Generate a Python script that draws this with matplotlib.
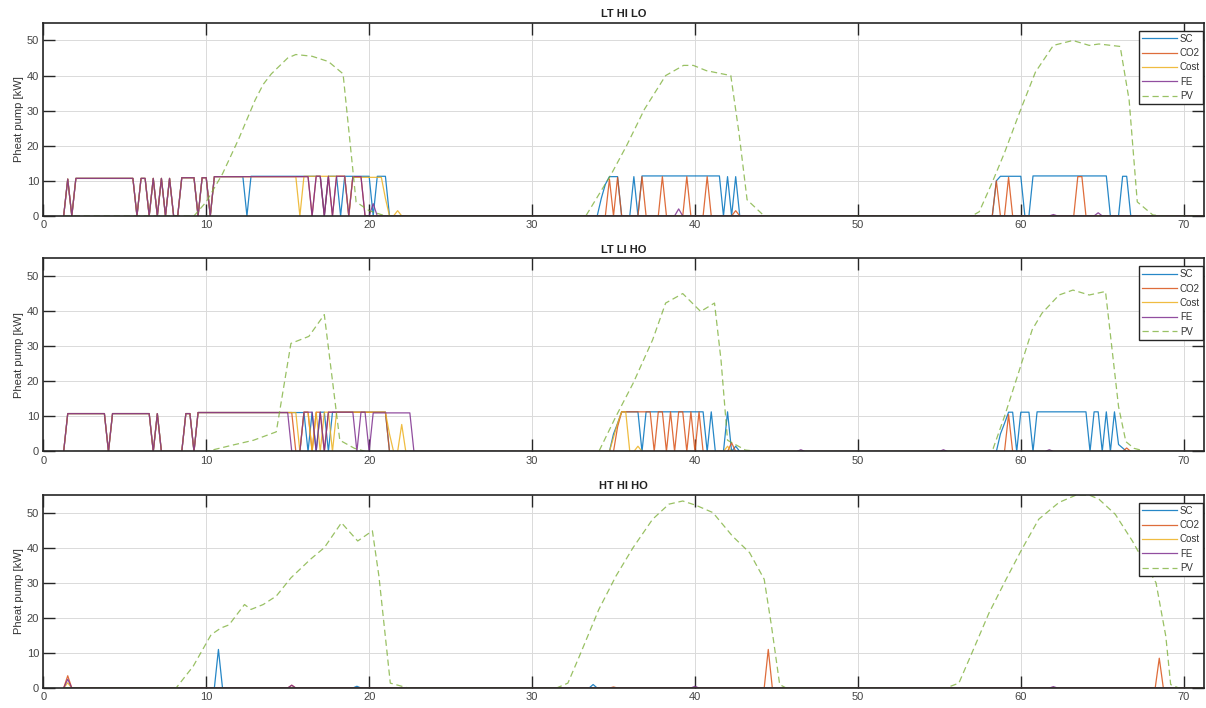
import numpy as np
import matplotlib.pyplot as plt

plt.rcParams['font.family'] = ['Liberation Sans', 'DejaVu Sans']

# simulation time step [h] and time axis of the heat pump results
dt = 0.25
t = np.arange(1.25, 72.0 + dt / 2, dt)

# heat pump operation: (first step on, last step on, power kW)
lthilo_early = [(1.5, 1.5, 10.5), (2.0, 5.5, 10.7), (6.0, 6.25, 10.7), (6.75, 6.75, 10.7),
                (7.25, 7.25, 10.7), (7.75, 7.75, 10.7), (8.5, 9.25, 10.9), (9.75, 10.0, 10.9)]
lthilo_sc = lthilo_early + [(10.5, 12.25, 11.2), (12.75, 17.0, 11.3), (17.5, 18.0, 11.3),
                            (18.5, 20.0, 11.3), (20.5, 21.0, 11.3),
                            (34.25, 34.25, 5), (34.5, 34.5, 9), (34.75, 35.25, 11.2), (36.25, 36.25, 11.2),
                            (36.75, 41.5, 11.4), (42.0, 42.0, 11.2), (42.5, 42.5, 11.2),
                            (58.5, 58.5, 10), (58.75, 60.0, 11.3), (60.75, 65.25, 11.4), (66.25, 66.5, 11.3)]
lthilo_co2 = lthilo_early + [(10.5, 16.25, 11.2), (16.75, 17.0, 11.3), (17.5, 17.5, 11.3),
                             (18.0, 18.5, 11.3), (19.0, 19.5, 11.2),
                             (34.75, 34.75, 10.5), (35.25, 35.25, 11), (36.75, 36.75, 11.2), (38.0, 38.0, 11.2),
                             (39.5, 39.5, 11.2), (40.75, 40.75, 11.2), (42.5, 42.5, 1.5),
                             (58.5, 58.5, 10), (59.25, 59.25, 11), (63.5, 63.75, 11.2)]
lthilo_cost = lthilo_early + [(10.5, 15.5, 11.2), (16.0, 18.5, 11.3), (19.0, 20.75, 11.0),
                              (21.0, 21.0, 5), (21.75, 21.75, 1.5)]
lthilo_fe = lthilo_early + [(10.5, 16.25, 11.2), (16.75, 17.0, 11.3), (17.5, 17.5, 11.3),
                            (18.0, 18.5, 11.3), (19.0, 19.5, 11.2), (20.25, 20.25, 3.5),
                            (39.0, 39.0, 2.0), (62.0, 62.0, 0.4), (64.75, 64.75, 0.9)]
lthilo_pv_t = [1.25, 9.25, 10, 11, 12, 13, 13.5, 14, 15, 15.5, 16.5, 17.5, 18.4, 19.2, 20, 21,
               33.3, 34.85, 35.8, 36.9, 38.2, 39.3, 39.9, 40.7, 42.2, 42.7, 43.2, 44.25,
               57.0, 57.45, 58.25, 59, 60, 60.9, 62, 63.2, 64.2, 64.8, 66.1, 66.65, 67.15, 68.1, 68.6, 72]
lthilo_pv_p = [0, 0, 4, 12, 22, 33, 37.5, 40.5, 45, 46, 45.5, 44, 40.5, 4, 1.5, 0,
               0, 11.8, 20, 30.4, 40, 42.9, 42.9, 41.4, 40, 23.7, 4.6, 0,
               0, 1.2, 9.6, 18, 30.4, 41, 48.6, 50, 48.6, 49, 48.3, 33, 4, 0.3, 0, 0]

ltliho_early = [(1.5, 3.75, 10.8), (4.25, 6.5, 10.8), (7.0, 7.0, 10.8), (8.75, 9.0, 10.8)]
ltliho_sc = ltliho_early + [(9.5, 16.0, 11.1), (16.5, 16.5, 11.2), (17.0, 17.25, 11.2), (17.75, 21.0, 11.2),
                            (35.0, 35.0, 5), (35.25, 35.25, 8), (35.5, 36.5, 11.3), (37.0, 40.5, 11.3),
                            (41.0, 41.0, 11.3), (42.0, 42.0, 11.3), (42.5, 42.5, 1.5),
                            (58.75, 58.75, 5), (59.0, 59.0, 8), (59.25, 59.5, 11.2), (60.0, 60.5, 11.2),
                            (61.0, 64.0, 11.3), (64.5, 64.75, 11.3), (65.25, 65.25, 11.3),
                            (65.75, 65.75, 11.3), (66.0, 66.0, 2), (66.25, 66.25, 1)]
ltliho_co2 = ltliho_early + [(9.5, 15.25, 11.1), (16.0, 16.25, 11.2), (16.75, 17.0, 11.2), (17.5, 21.0, 11.2),
                             (35.25, 35.25, 7), (35.5, 37.25, 11.3), (37.75, 38.0, 11.3), (38.5, 38.5, 11.3),
                             (39.0, 39.25, 11.3), (39.75, 39.75, 11.3), (40.25, 40.25, 11.3), (42.25, 42.25, 2.5),
                             (59.25, 59.25, 10.5), (66.5, 66.5, 1.0)]
ltliho_cost = ltliho_early + [(9.5, 15.5, 11.1), (16.0, 16.25, 11.2), (16.75, 16.75, 11.2), (17.25, 17.5, 11.2),
                              (18.0, 21.0, 11.2), (21.25, 21.25, 5), (22.0, 22.0, 7.7),
                              (35.0, 35.0, 4), (35.25, 35.25, 8), (35.5, 35.75, 11.3), (36.5, 36.5, 1.5),
                              (42.0, 42.0, 1.5)]
ltliho_fe = ltliho_early + [(9.5, 15.0, 11.1), (16.0, 16.5, 11.2), (17.0, 17.0, 11.2), (17.5, 19.0, 11.2),
                            (19.5, 19.75, 11.2), (20.25, 22.5, 11.0),
                            (46.5, 46.5, 0.5), (55.25, 55.25, 0.5), (61.75, 61.75, 0.5)]
ltliho_pv_t = [1.25, 10.0, 11.6, 12.9, 14.3, 15.2, 16.3, 17.25, 18.2, 19.1, 19.8,
               34.1, 35.15, 36.2, 37.4, 38.2, 39.25, 40.35, 41.2, 41.6, 42.0, 43.1, 44.0,
               58.1, 58.3, 59.0, 59.9, 60.7, 61.3, 62.35, 63.2, 64.2, 65.2, 66.0, 66.45, 66.95, 67.7, 72]
ltliho_pv_p = [0, 0, 1.8, 3.2, 5.6, 30.8, 32.8, 39, 3.2, 0.9, 0,
               0, 10, 19.4, 31.8, 42.3, 45, 39.9, 42.3, 26, 3.2, 0.4, 0,
               0, 0.8, 10, 23, 34.7, 39.4, 44.6, 46, 44.6, 45.6, 12.8, 2.8, 0.9, 0, 0]

hthiho_sc = [(10.75, 10.75, 11), (19.25, 19.25, 0.5), (33.75, 33.75, 1.0)]
hthiho_co2 = [(1.5, 1.5, 3.5), (15.25, 15.25, 0.8), (35.0, 35.0, 0.3), (44.5, 44.5, 11), (68.5, 68.5, 8.5)]
hthiho_cost = [(1.5, 1.5, 1.5)]
hthiho_fe = [(1.5, 1.5, 2.5), (15.25, 15.25, 0.8), (40.0, 40.0, 0.5), (62.0, 62.0, 0.4)]
hthiho_pv_t = [1.25, 8.15, 9.2, 10.3, 10.9, 11.4, 12.35, 12.75, 13.5, 14.3, 15.2, 16.4, 17.25, 18.3,
               19.3, 20.2, 20.6, 21.3, 22.4,
               31.5, 32.2, 32.9, 34.1, 35.15, 36.2, 37.4, 38.4, 39.25, 40.05, 41.1, 42.3, 43.35,
               44.25, 44.7, 45.2, 45.6,
               55.4, 56.2, 57.0, 58.05, 59.1, 60.0, 61.1, 62.35, 63.4, 64.2, 64.8, 65.8, 66.85,
               67.7, 68.3, 68.9, 69.2, 69.7, 72]
hthiho_pv_p = [0, 0, 6.2, 15.2, 17.1, 18, 23.8, 22.4, 23.8, 26.2, 31.4, 36.7, 40, 47.1,
               41.9, 44.8, 31.9, 1.4, 0,
               0, 1.4, 9, 22.4, 31.9, 40, 48.1, 52.4, 53.3, 52.1, 50, 43.3, 38.6,
               31, 17.6, 1, 0,
               0, 1.4, 10, 21.4, 31, 39, 48.1, 52.9, 55, 55, 53.8, 49.5, 41.9,
               34.8, 30, 14.8, 1, 0, 0]

titles = ['LT HI LO', 'LT LI HO', 'HT HI HO']
labels = ['SC', 'CO2', 'Cost', 'FE', 'PV']
colors = ['#0072BD', '#D95319', '#EDB120', '#7E2F8E', '#77AC30']


def series(intervals):
    p = np.zeros(len(t))
    for a, b, v in intervals:
        p[(t > a - dt / 2) & (t < b + dt / 2)] = v
    return p


cases = [
    (lthilo_sc, lthilo_co2, lthilo_cost, lthilo_fe, lthilo_pv_t, lthilo_pv_p),
    (ltliho_sc, ltliho_co2, ltliho_cost, ltliho_fe, ltliho_pv_t, ltliho_pv_p),
    (hthiho_sc, hthiho_co2, hthiho_cost, hthiho_fe, hthiho_pv_t, hthiho_pv_p),
]

fig = plt.figure(figsize=(12.06, 7.08), dpi=100)
bottoms = [0.695, 0.3623, 0.0282]

for k in range(3):
    ax = fig.add_axes([0.0359, bottoms[k], 0.9625, 0.2726])
    sc, co2, cost, fe, pv_t, pv_p = cases[k]
    for i, iv in enumerate([sc, co2, cost, fe]):
        ax.plot(t, series(iv), color=colors[i], lw=0.9, label=labels[i], alpha=0.85)
    ax.plot(pv_t, pv_p, color=colors[4], lw=0.9, dashes=(5, 3), label=labels[4], alpha=0.75)

    ax.set_xlim(0, 71.25)
    ax.set_ylim(0, 55)
    ax.set_xticks(range(0, 71, 10))
    ax.set_yticks(range(0, 51, 10))
    ax.grid(True, color='#dadada', lw=0.7)
    ax.set_axisbelow(True)
    ax.tick_params(direction='in', length=8.5, width=1.0, top=True, right=True,
                   labelsize=8, labelcolor='#444444', color='#262626', pad=3)
    for s in ax.spines.values():
        s.set_color('#262626')
        s.set_linewidth(1.2)
    ax.set_title(titles[k], fontsize=8, fontweight='bold', color='#222222', pad=4)
    ax.set_ylabel('Pheat pump [kW]', fontsize=8, color='#333333', labelpad=2)
    leg = ax.legend(loc='upper right', bbox_to_anchor=(0.999, 0.96), borderaxespad=0,
                    fontsize=7, fancybox=False, framealpha=1, edgecolor='#262626',
                    handlelength=3.6, handletextpad=0.3, labelspacing=0.45, borderpad=0.3)
    leg.get_frame().set_linewidth(1.0)
    for txt in leg.get_texts():
        txt.set_color('#333333')

fig.savefig('out.png', dpi=100)
